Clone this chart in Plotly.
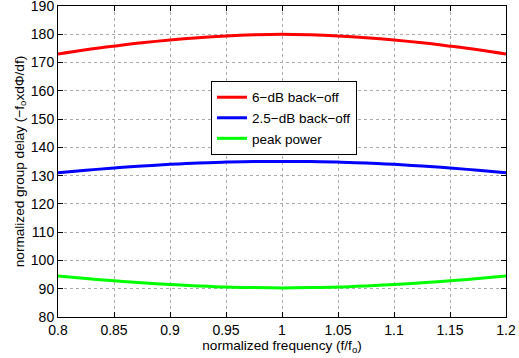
import plotly.graph_objects as go

freq = [0.8, 0.825, 0.85, 0.875, 0.9, 0.925, 0.95, 0.975, 1.0,
        1.025, 1.05, 1.075, 1.1, 1.125, 1.15, 1.175, 1.2]
red_6db = [173.0, 174.5, 175.8, 177.0, 178.0, 178.8, 179.4, 179.8, 180.0,
           179.8, 179.4, 178.8, 178.0, 177.0, 175.8, 174.5, 173.0]
blue_25db = [131.0, 131.9, 132.7, 133.4, 134.0, 134.5, 134.8, 135.0, 135.0,
             135.0, 134.8, 134.5, 134.0, 133.4, 132.7, 131.9, 131.0]
green_peak = [94.5, 93.6, 92.8, 92.1, 91.5, 91.0, 90.6, 90.4, 90.3,
              90.4, 90.6, 91.0, 91.5, 92.1, 92.8, 93.6, 94.5]

x_ticks = [0.8, 0.85, 0.9, 0.95, 1.0, 1.05, 1.1, 1.15, 1.2]
x_tick_labels = ["0.8", "0.85", "0.9", "0.95", "1", "1.05", "1.1", "1.15", "1.2"]
y_ticks = [80, 90, 100, 110, 120, 130, 140, 150, 160, 170, 180, 190]

fig = go.Figure()
fig.add_trace(go.Scatter(x=freq, y=red_6db, mode="lines", name="6\u2212dB back\u2212off",
                         line=dict(color="#ff0000", width=3, shape="spline")))
fig.add_trace(go.Scatter(x=freq, y=blue_25db, mode="lines", name="2.5\u2212dB back\u2212off",
                         line=dict(color="#0000ff", width=3, shape="spline")))
fig.add_trace(go.Scatter(x=freq, y=green_peak, mode="lines", name="peak power",
                         line=dict(color="#00ff00", width=3, shape="spline")))

axis_common = dict(
    showline=True, linecolor="black", linewidth=1, mirror="ticks",
    ticks="inside", ticklen=5, tickcolor="black",
    showgrid=True, gridcolor="#aaaaaa", griddash="dot", gridwidth=1,
    zeroline=False, ticklabeloverflow="allow", automargin=False,
    tickfont=dict(family="Liberation Sans, Arial, sans-serif", size=14, color="black"),
)

fig.update_layout(
    width=519, height=358,
    margin=dict(l=58, r=13, t=6, b=41),
    paper_bgcolor="white", plot_bgcolor="white",
    font=dict(family="Liberation Sans, Arial, sans-serif", size=13, color="black"),
    xaxis=dict(range=[0.8, 1.2], tickvals=x_ticks, ticktext=x_tick_labels,
               title=dict(text="normalized frequency (f/f<sub>o</sub>)", standoff=1,
                          font=dict(size=13.6)),
               **axis_common),
    yaxis=dict(range=[80, 190], tickvals=y_ticks,
               title=dict(text="normalized group delay (\u2212f<sub>o</sub>xd\u03a6/df)", standoff=3,
                          font=dict(size=13.6)),
               **axis_common),
    legend=dict(x=0.3415, y=0.759, xanchor="left", yanchor="top",
                bgcolor="white", bordercolor="black", borderwidth=1,
                font=dict(size=13.5), itemwidth=30, tracegroupgap=0),
    showlegend=True,
)

fig.write_html("out.html")
